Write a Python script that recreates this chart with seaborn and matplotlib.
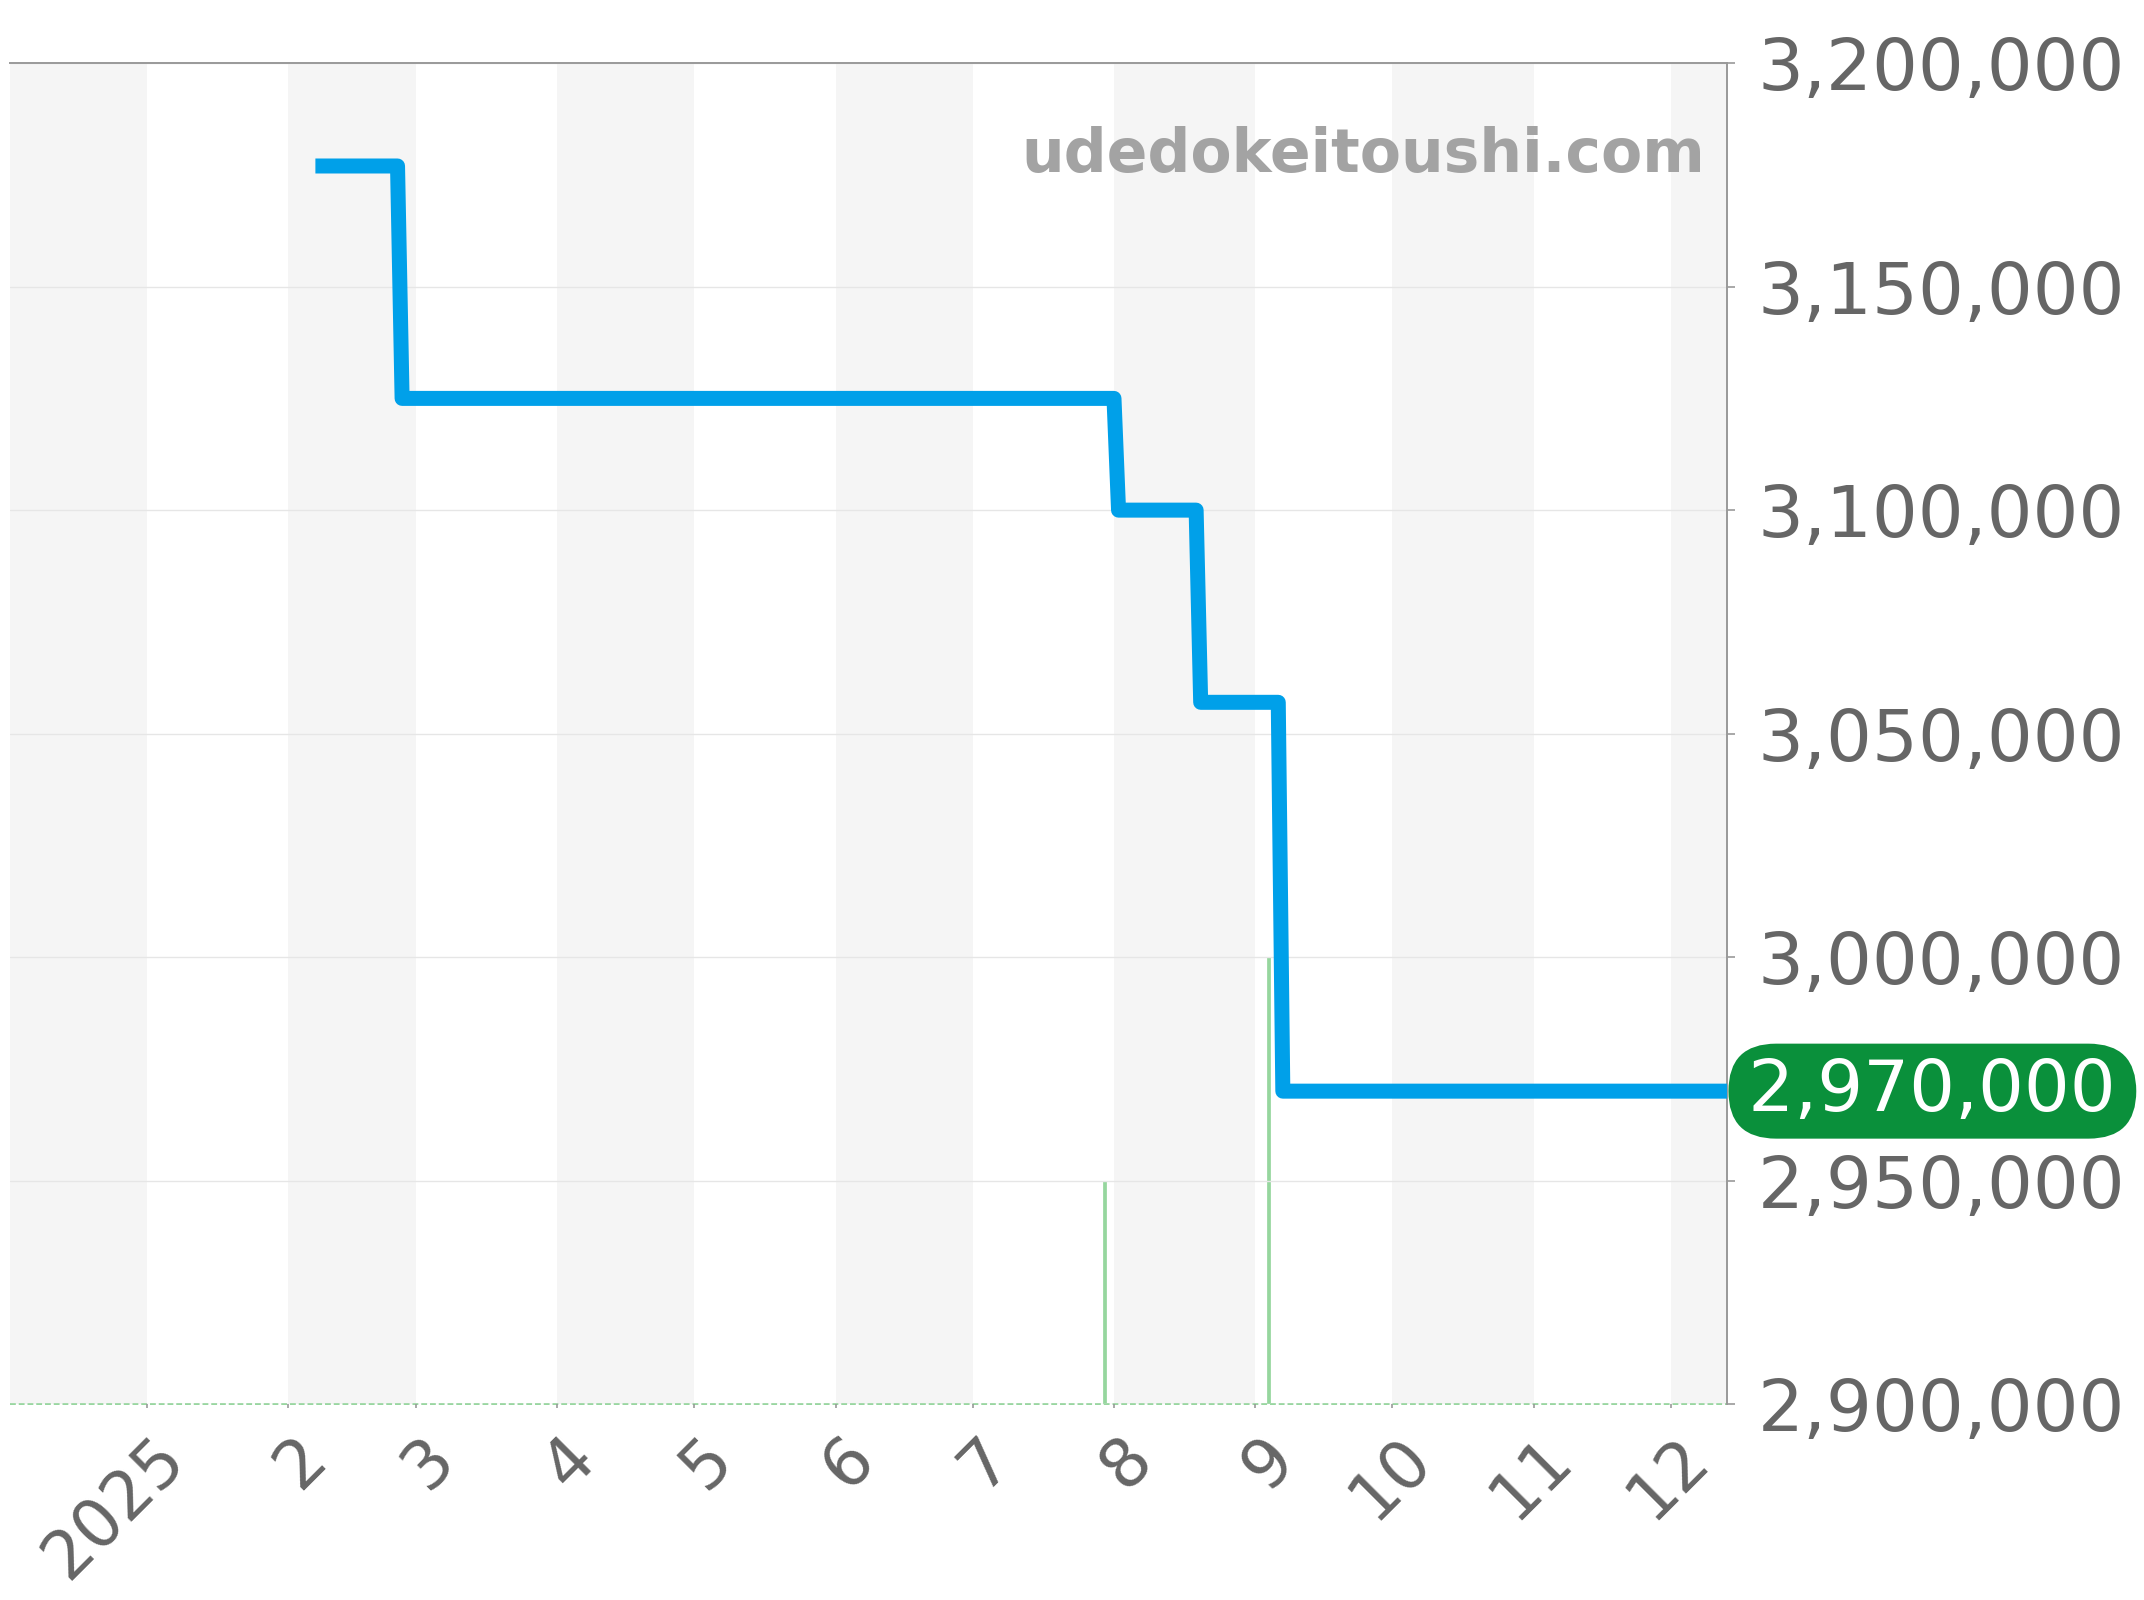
import matplotlib
matplotlib.use("Agg")
import numpy as np
import pandas as pd
import seaborn as sns
import matplotlib.pyplot as plt
from matplotlib.transforms import ScaledTranslation

# ---------------- data ----------------
price_dates = ["2025-02-07", "2025-02-25", "2025-02-26", "2025-08-01", "2025-08-02",
               "2025-08-19", "2025-08-20", "2025-09-06", "2025-09-07", "2025-12-31"]
prices = [3177000, 3177000, 3125000, 3125000, 3100000,
          3100000, 3057000, 3057000, 2970000, 2970000]

volume_dates = ["2025-07-30", "2025-09-04"]
volume_counts = [1, 2]

tick_dates = ["2025-01-01", "2025-02-01", "2025-03-01", "2025-04-01", "2025-05-01", "2025-06-01",
              "2025-07-01", "2025-08-01", "2025-09-01", "2025-10-01", "2025-11-01", "2025-12-01"]
tick_labels = ["2025", "2", "3", "4", "5", "6", "7", "8", "9", "10", "11", "12"]

shaded_month_starts = ["2024-12-01", "2025-02-01", "2025-04-01", "2025-06-01",
                       "2025-08-01", "2025-10-01", "2025-12-01"]

y_ticks = [2900000, 2950000, 3000000, 3050000, 3100000, 3150000, 3200000]
latest_price = 2970000
watermark = "udedokeitoushi.com"

# ---------------- style ----------------
sns.set_theme(style="white")
plt.rcParams["font.family"] = ["DejaVu Sans"]

TEXT_GRAY = "#666666"
SPINE_GRAY = "#999999"
BLUE = "#00a0e9"
GREEN_BAR = "#96d69e"
BADGE_GREEN = "#0a903b"

fig = plt.figure(figsize=(21.44, 16), dpi=100)
fig.patch.set_facecolor("white")
ax = fig.add_axes([0.0045, 0.1225, 0.801, 0.838])
xlim = (pd.Timestamp("2024-12-02"), pd.Timestamp("2025-12-13 08:00"))

# secondary axis for the green count bars (created first; twinx resets tick side)
ax2 = ax.twinx()
ax.set_zorder(ax2.get_zorder() + 1)
ax.patch.set_visible(False)

# alternating month shading on the back axes
for s in shaded_month_starts:
    start = pd.Timestamp(s)
    end = start + pd.offsets.MonthBegin(1)
    ax2.axvspan(start, end, color="#f5f5f5", lw=0, zorder=0)

ax2.set_ylim(0, 6)
ax2.set_xlim(xlim)
ax2.set_yticks([])
ax2.xaxis.set_visible(False)
for sp in ax2.spines.values():
    sp.set_visible(False)
ax2.set_facecolor("white")
ax2.patch.set_visible(True)

# price line
df = pd.DataFrame({"date": pd.to_datetime(price_dates), "price": prices})
sns.lineplot(data=df, x="date", y="price", ax=ax, estimator=None, sort=False,
             color=BLUE, lw=10.8, solid_joinstyle="round", solid_capstyle="butt", zorder=5)

ax.set_xlim(xlim)
ax.set_ylim(y_ticks[0], y_ticks[-1])
ax.set_xlabel("")
ax.set_ylabel("")

# grid
ax.grid(axis="y", color="#e6e6e6", lw=1.0, zorder=0.5)
ax.grid(axis="x", visible=False)

# green count bars and dotted baseline
ax2.vlines(pd.to_datetime(volume_dates), 0, volume_counts, color=GREEN_BAR, lw=2.7, zorder=3)
ax2.axhline(0, color=GREEN_BAR, lw=1.4, ls=(0, (3, 1.5)), clip_on=False, zorder=3)

# spines
for side in ["left", "bottom"]:
    ax.spines[side].set_visible(False)
for side in ["top", "right"]:
    ax.spines[side].set_visible(True)
    ax.spines[side].set_color(SPINE_GRAY)
    ax.spines[side].set_linewidth(1.4)

# y axis on the right
ax.yaxis.tick_right()
ax.set_yticks(y_ticks)
ax.set_yticklabels([f"{v:,}" for v in y_ticks])
ax.tick_params(axis="y", which="both", right=True, left=False, labelright=True, labelleft=False,
               length=5.8, width=1.2, color=SPINE_GRAY, pad=16, labelsize=52,
               labelcolor=TEXT_GRAY)

# x axis
ax.set_xticks(pd.to_datetime(tick_dates))
ax.set_xticklabels(tick_labels, rotation=45, ha="right", va="top")
ax.tick_params(axis="x", bottom=True, length=2.9, width=1.2, color=SPINE_GRAY,
               pad=12, labelsize=48, labelcolor=TEXT_GRAY)
offset = ScaledTranslation(51 / 100, 0, fig.dpi_scale_trans)
for lbl in ax.xaxis.get_majorticklabels():
    lbl.set_transform(lbl.get_transform() + offset)

# watermark
ax.text(0.9872, 0.9187, watermark, transform=ax.transAxes, ha="right", va="baseline",
        fontsize=43.2, fontweight="bold", color="#a3a3a3", zorder=6)

# latest price badge (pill)
hair = "\u200a"
ax.text(1.0084, latest_price, f"{hair}{latest_price:,}{hair}",
        transform=ax.get_yaxis_transform(), ha="left", va="center",
        fontsize=52, color="white", clip_on=False, zorder=10,
        bbox=dict(boxstyle="round,pad=0.18,rounding_size=0.66", fc=BADGE_GREEN, ec="none"))

fig.savefig("out.png", dpi=100, facecolor="white")
